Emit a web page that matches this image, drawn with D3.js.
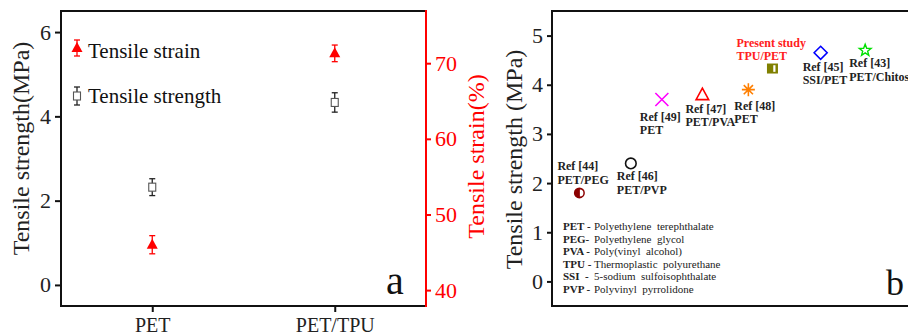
<!DOCTYPE html>
<html>
<head>
<meta charset="utf-8">
<script src="https://cdn.jsdelivr.net/npm/d3@7"></script>
<style>
  body { margin: 0; background: #fff; }
  svg { display: block; }
</style>
</head>
<body>
<svg id="chart" width="908" height="336"></svg>
<script>
// panel a data
const catsA = ["PET", "PET/TPU"];
const catPosA = [1, 2];
const strengthA = [2.32, 4.33];
const strengthErrA = [0.2, 0.23];
const strainA = [46.0, 71.3];
const strainErrA = [1.2, 1.1];
const yTicksA = [0, 2, 4, 6];
const y2TicksA = [40, 50, 60, 70];

// panel b data
const refNames = ["Ref [44]", "Ref [46]", "Ref [49]", "Ref [47]", "Ref [48]", "Present study", "Ref [45]", "Ref [43]"];
const refMaterials = ["PET/PEG", "PET/PVP", "PET", "PET/PVA", "PET", "TPU/PET", "SSI/PET", "PET/Chitosan"];
const refX = [7.5, 21.6, 30.1, 41.2, 53.8, 60.4, 73.6, 85.8];
const refStrength = [1.8, 2.4, 3.7, 3.8, 3.9, 4.33, 4.65, 4.7];
const yTicksB = [0, 1, 2, 3, 4, 5];
const abbrevs = ["PET -", "PEG-", "PVA -", "TPU -", "SSI  -", "PVP -"];
const abbrevText = ["Polyethylene  terephthalate", "Polyethylene  glycol", "Poly(vinyl  alcohol)",
  "Thermoplastic  polyurethane", "5-sodium  sulfoisophthalate", "Polyvinyl  pyrrolidone"];

// marker styles & label placement (layout only)
const markerStyle = [
  { shape: "halfcircle", color: "#8b0000" },
  { shape: "circle", color: "#111" },
  { shape: "cross", color: "#ff00ff" },
  { shape: "triangle", color: "#ff0000" },
  { shape: "asterisk", color: "#ff7f00" },
  { shape: "halfsquare", color: "#808000" },
  { shape: "diamond", color: "#0000ff" },
  { shape: "star", color: "#00e000" }
];
const labelOffset = [[-22, -23], [-14, 17], [-22, 21], [-17, 18], [-14, 20], [-36, -22], [-18, 18], [-16, 17]];

const FONT = "Liberation Serif, Times New Roman, serif";
const svg = d3.select("#chart").attr("font-family", FONT);
const fmt = d3.format("d");

function styleAxis(ax, color, size) {
  ax.attr("font-family", FONT);
  ax.selectAll(".domain").remove();
  ax.selectAll(".tick line").attr("stroke", color).attr("stroke-width", 2);
  ax.selectAll(".tick text").attr("font-size", size).attr("fill", color === "#111" ? "#222" : color);
}

// ---------- panel a ----------
const a = { left: 61, right: 426, top: 11, bottom: 306 };
const xA = d3.scaleLinear().domain([0.5, 2.5]).range([a.left, a.right]);
const yA = d3.scaleLinear().domain([-0.5, 6.5]).range([a.bottom, a.top]);
const y2A = d3.scaleLinear().domain([37.9, 76.9]).range([a.bottom, a.top]);

const gA = svg.append("g");

styleAxis(gA.append("g").attr("transform", `translate(${a.left},0)`)
  .call(d3.axisLeft(yA).tickValues(yTicksA).tickFormat(fmt).tickSize(6).tickSizeOuter(0).tickPadding(4)), "#111", 22);

styleAxis(gA.append("g").attr("transform", `translate(${a.right},0)`)
  .call(d3.axisRight(y2A).tickValues(y2TicksA).tickFormat(fmt).tickSize(5).tickSizeOuter(0).tickPadding(4)), "#ff0000", 22);

styleAxis(gA.append("g").attr("transform", `translate(0,${a.bottom})`)
  .call(d3.axisBottom(xA).tickValues(catPosA).tickFormat((d, i) => catsA[i]).tickSize(6).tickSizeOuter(0).tickPadding(6)), "#111", 20);

// frame
gA.append("path").attr("d", `M${a.right},${a.top}H${a.left}V${a.bottom}H${a.right}`)
  .attr("fill", "none").attr("stroke", "#111").attr("stroke-width", 2);
gA.append("line").attr("x1", a.right).attr("x2", a.right).attr("y1", a.top - 1).attr("y2", a.bottom + 1)
  .attr("stroke", "#ff0000").attr("stroke-width", 2);

gA.append("text").attr("transform", `translate(29,${(a.top + a.bottom) / 2 - 10}) rotate(-90)`)
  .attr("text-anchor", "middle").attr("font-size", 24).attr("fill", "#222").text("Tensile strength(MPa)");

function errBar(g, x, y0, y1, color) {
  g.append("line").attr("x1", x).attr("x2", x).attr("y1", y0).attr("y2", y1).attr("stroke", color).attr("stroke-width", 1.3);
  [y0, y1].forEach(y => g.append("line").attr("x1", x - 3).attr("x2", x + 3).attr("y1", y).attr("y2", y)
    .attr("stroke", color).attr("stroke-width", 1.3));
}
function openSquare(g, x, y) {
  g.append("rect").attr("x", x - 3.5).attr("y", y - 4).attr("width", 7).attr("height", 8)
    .attr("fill", "#fff").attr("stroke", "#555").attr("stroke-width", 1.1);
}
function fillTri(g, x, y) {
  g.append("path").attr("d", `M${x},${y - 6}L${x + 5.5},${y + 4}L${x - 5.5},${y + 4}Z`).attr("fill", "#ff0000");
}

catPosA.forEach((c, i) => {
  const x = xA(c);
  errBar(gA, x, yA(strengthA[i] + strengthErrA[i]), yA(strengthA[i] - strengthErrA[i]), "#222");
  openSquare(gA, x, yA(strengthA[i]));
  errBar(gA, x, y2A(strainA[i] + strainErrA[i]), y2A(strainA[i] - strainErrA[i]), "#ff0000");
  fillTri(gA, x, y2A(strainA[i]));
});

// legend
errBar(gA, 77, 40, 56, "#ff0000");
fillTri(gA, 77, 48);
gA.append("text").attr("x", 88).attr("y", 58).attr("font-size", 21).attr("fill", "#111").text("Tensile strain");
errBar(gA, 77, 87, 105, "#222");
openSquare(gA, 77, 96);
gA.append("text").attr("x", 88).attr("y", 103).attr("font-size", 21).attr("fill", "#111").text("Tensile strength");

gA.append("text").attr("x", 386).attr("y", 294).attr("font-size", 40).attr("fill", "#111").text("a");

// ---------- panel b ----------
const b = { left: 552, right: 917, top: 11, bottom: 306 };
const xB = d3.scaleLinear().domain([0, 100]).range([b.left, b.right]);
const yB = d3.scaleLinear().domain([-0.5, 5.5]).range([b.bottom, b.top]);
const gB = svg.append("g");

styleAxis(gB.append("g").attr("transform", `translate(${b.left},0)`)
  .call(d3.axisLeft(yB).tickValues(yTicksB).tickFormat(fmt).tickSize(5).tickSizeOuter(0).tickPadding(4)), "#111", 22);

gB.append("rect").attr("x", b.left).attr("y", b.top).attr("width", b.right - b.left).attr("height", b.bottom - b.top)
  .attr("fill", "none").attr("stroke", "#111").attr("stroke-width", 2);

gB.append("text").attr("transform", `translate(484,${(b.top + b.bottom) / 2 - 2}) rotate(-90)`)
  .attr("text-anchor", "middle").attr("font-size", 24).attr("fill", "#ff0000").text("Tensile strain(%)");
gB.append("text").attr("transform", `translate(522,${(b.top + b.bottom) / 2 + 1}) rotate(-90)`)
  .attr("text-anchor", "middle").attr("font-size", 24).attr("fill", "#222").text("Tensile strength (MPa)");

function marker(g, shape, color, x, y) {
  const sw = 1.6;
  if (shape === "halfcircle") {
    g.append("circle").attr("cx", x).attr("cy", y).attr("r", 5.5).attr("fill", color);
    g.append("path").attr("d", `M${x + 0.5},${y - 3.5}A3.5,3.5 0 0 1 ${x + 0.5},${y + 3.5}Z`).attr("fill", "#fff");
  } else if (shape === "circle") {
    g.append("circle").attr("cx", x).attr("cy", y).attr("r", 5.3).attr("fill", "none").attr("stroke", color).attr("stroke-width", sw);
  } else if (shape === "cross") {
    g.append("path").attr("d", `M${x - 6.5},${y - 6.5}L${x + 6.5},${y + 6.5}M${x + 6.5},${y - 6.5}L${x - 6.5},${y + 6.5}`)
      .attr("stroke", color).attr("stroke-width", sw);
  } else if (shape === "triangle") {
    g.append("path").attr("d", `M${x},${y - 6.5}L${x + 6.3},${y + 5}L${x - 6.3},${y + 5}Z`)
      .attr("fill", "none").attr("stroke", color).attr("stroke-width", sw);
  } else if (shape === "asterisk") {
    let d = "";
    for (let k = 0; k < 4; k++) {
      const ang = k * Math.PI / 4, r = 6.5;
      d += `M${x - r * Math.cos(ang)},${y - r * Math.sin(ang)}L${x + r * Math.cos(ang)},${y + r * Math.sin(ang)}`;
    }
    g.append("path").attr("d", d).attr("stroke", color).attr("stroke-width", sw);
  } else if (shape === "halfsquare") {
    g.append("rect").attr("x", x - 5.5).attr("y", y - 5).attr("width", 11).attr("height", 10).attr("fill", color);
    g.append("rect").attr("x", x + 0.8).attr("y", y - 3.3).attr("width", 2.2).attr("height", 6.6).attr("fill", "#fff");
  } else if (shape === "diamond") {
    g.append("path").attr("d", `M${x},${y - 6.5}L${x + 6.5},${y}L${x},${y + 6.5}L${x - 6.5},${y}Z`)
      .attr("fill", "none").attr("stroke", color).attr("stroke-width", sw);
  } else if (shape === "star") {
    const pts = d3.range(10).map(k => {
      const r = k % 2 === 0 ? 6.2 : 2.6, ang = -Math.PI / 2 + k * Math.PI / 5;
      return [x + r * Math.cos(ang), y + r * Math.sin(ang)];
    });
    g.append("path").attr("d", "M" + pts.join("L") + "Z").attr("fill", "none").attr("stroke", color).attr("stroke-width", 1.4);
  }
}

refX.forEach((rx, i) => {
  const x = xB(rx), y = yB(refStrength[i]);
  marker(gB, markerStyle[i].shape, markerStyle[i].color, x, y);
  const isPresent = refNames[i] === "Present study";
  const t = gB.append("text").attr("font-size", 12).attr("font-weight", "bold")
    .attr("fill", isPresent ? "#ff2020" : "#222");
  const lx = x + labelOffset[i][0], ly = y + labelOffset[i][1];
  t.append("tspan").attr("x", lx).attr("y", ly).text(refNames[i]);
  t.append("tspan").attr("x", lx).attr("y", ly + 13.7).text(refMaterials[i]);
});

// abbreviation list
abbrevs.forEach((ab, i) => {
  const y = 230 + i * 12.5;
  gB.append("text").attr("x", 563).attr("y", y).attr("font-size", 11).attr("font-weight", "bold")
    .attr("fill", "#222").style("white-space", "pre").text(ab);
  gB.append("text").attr("x", 594).attr("y", y).attr("font-size", 11)
    .attr("fill", "#222").style("white-space", "pre").text(abbrevText[i]);
});

gB.append("text").attr("x", 886).attr("y", 295).attr("font-size", 36).attr("fill", "#111").text("b");
</script>
</body>
</html>
